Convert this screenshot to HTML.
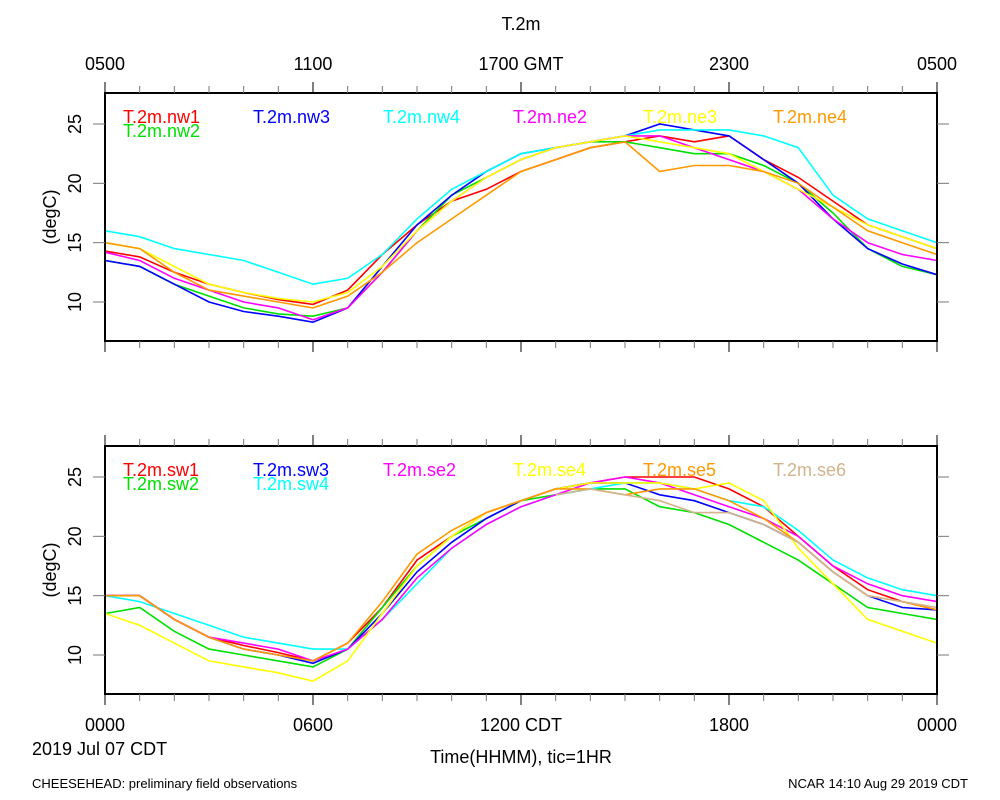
<!DOCTYPE html>
<html><head><meta charset="utf-8"><style>
body{margin:0;background:#fff;}
svg{display:block;font-family:"Liberation Sans",sans-serif;}
</style></head><body>
<svg id="chart" width="1000" height="800" viewBox="0 0 1000 800">
<text x="521" y="30" font-size="18" text-anchor="middle">T.2m</text>
<text x="32" y="755" font-size="18">2019 Jul 07 CDT</text>
<text x="521" y="763" font-size="18" text-anchor="middle">Time(HHMM), tic=1HR</text>
<text x="32" y="788" font-size="13">CHEESEHEAD: preliminary field observations</text>
<text x="968" y="788" font-size="13" text-anchor="end">NCAR 14:10 Aug 29 2019 CDT</text>
</svg>
<script>
const hours=[0,1,2,3,4,5,6,7,8,9,10,11,12,13,14,15,16,17,18,19,20,21,22,23,24];
const topTickLabels=["0500","1100","1700 GMT","2300","0500"];
const bottomTickLabels=["0000","0600","1200 CDT","1800","0000"];
const yTicks=[10,15,20,25];
const topNames=["T.2m.nw1","T.2m.nw2","T.2m.nw3","T.2m.nw4","T.2m.ne2","T.2m.ne3","T.2m.ne4"];
const topColors=["#ff0000","#00e000","#0000ff","#00ffff","#ff00ff","#ffff00","#ff9900"];
const nw1=[14.3,13.8,12.5,11.5,10.8,10.2,9.8,11,14,16.5,18.5,19.5,21,22,23,23.5,24,23.5,24,22,20.5,18.5,16.5,15.5,14.5];
const nw2=[13.5,13,11.5,10.5,9.5,9,8.8,9.5,12.5,16,19,20.5,22,23,23.5,23.5,23,22.5,22.5,21.5,20,17.5,14.5,13,12.3];
const nw3=[13.5,13,11.5,10,9.2,8.8,8.3,9.5,13,16.5,19,21,22.5,23,23.5,24,25,24.5,24,22,20,17,14.5,13.2,12.3];
const nw4=[16,15.5,14.5,14,13.5,12.5,11.5,12,14,17,19.5,21,22.5,23,23.5,24,24.5,24.5,24.5,24,23,19,17,16,15];
const ne2=[14.2,13.5,12,11,10,9.5,8.5,9.5,12.5,16,18.5,20.5,22,23,23.5,24,24,23,22,21,19.5,17,15,14,13.5];
const ne3=[15,14.5,13,11.5,10.8,10.3,10,10.8,13,16,18.5,20.5,22,23,23.5,24,23.5,23,22.5,21,19.5,18,16.5,15.5,14.5];
const ne4=[15,14.5,12.5,11,10.5,10,9.5,10.5,12.5,15,17,19,21,22,23,23.5,21,21.5,21.5,21,20,18,16,15,14];
const botNames=["T.2m.sw1","T.2m.sw2","T.2m.sw3","T.2m.sw4","T.2m.se2","T.2m.se4","T.2m.se5","T.2m.se6"];
const botColors=["#ff0000","#00e000","#0000ff","#00ffff","#ff00ff","#ffff00","#ff9900","#d2b48c"];
const sw1=[15,15,13,11.5,10.8,10.2,9.5,11,14,18,20,22,23,24,24.5,25,25,25,24,22.5,20,17.5,15.5,14.5,13.8];
const sw2=[13.5,14,12,10.5,10,9.5,9,10.5,14,17.5,20,21.5,23,23.5,24,24,22.5,22,21,19.5,18,16,14,13.5,13];
const sw3=[15,15,13,11.5,10.5,10,9.3,10.5,13.5,17,19.5,21.5,23,24,24.5,24.5,23.5,23,22,21,19.5,17,15,14,13.8];
const sw4=[15,14.5,13.5,12.5,11.5,11,10.5,10.5,13,16,19,21,22.5,23.5,24,24.5,24.5,24,23,22.5,20.5,18,16.5,15.5,15];
const se2=[15,15,13,11.5,11,10.5,9.5,10.5,13,16.5,19,21,22.5,23.5,24.5,25,24.5,23.5,22.5,21.5,20,17.5,16,15,14.5];
const se4=[13.5,12.5,11,9.5,9,8.5,7.8,9.5,13.5,17.5,20,22,23,24,24.5,24.5,24.5,24,24.5,23,19,16,13,12,11];
const se5=[15,15,13,11.5,10.5,10,9.5,11,14.5,18.5,20.5,22,23,24,24,23.5,24,24,23,21.5,19.5,17,15,14.5,13.8];
const se6=[null,null,null,null,null,null,null,null,null,null,null,null,null,23.5,24,23.5,23,22,22,21,19.5,17,15,14.5,14];
const topSeries=[nw1,nw2,nw3,nw4,ne2,ne3,ne4];
const botSeries=[sw1,sw2,sw3,sw4,se2,se4,se5,se6];

const NS="http://www.w3.org/2000/svg";
const svg=document.getElementById('chart');
const X0=105,X1=937;
function xs(h){return X0+(X1-X0)*h/24;}
function mk(tag,attrs,parent){const e=document.createElementNS(NS,tag);for(const k in attrs)e.setAttribute(k,attrs[k]);(parent||svg).appendChild(e);return e;}

function panel(top,bottom,series,names,colors,tickLabels,labelY,legendPos,pname){
  const g=mk('g',{});
  
  
  const ys=v=>top+31-(v-25)*(178/15);
  series.forEach((s,i)=>{
    let d='';let pen=false;
    s.forEach((v,j)=>{if(v===null){pen=false;return;}d+=(pen?'L':'M')+xs(hours[j]).toFixed(1)+' '+ys(v).toFixed(1);pen=true;});
    const p=mk('path',{d:d,fill:'none',stroke:colors[i],'stroke-width':1.6},g);
    
    
  });
  const f=mk('rect',{x:X0,y:top,width:X1-X0,height:bottom-top,fill:'none',stroke:'#000','stroke-width':2},g);
  
  
  for(let h=0;h<=24;h++){
    const L=h%6===0?11:7;
    const c=h%6===0?'#000':'#777';
    mk('line',{x1:xs(h),x2:xs(h),y1:bottom,y2:bottom+L,stroke:c,'stroke-width':1},g);
    mk('line',{x1:xs(h),x2:xs(h),y1:top,y2:top-L,stroke:c,'stroke-width':1},g);
  }
  yTicks.forEach(v=>{
    mk('line',{x1:X0-12,x2:X0,y1:ys(v),y2:ys(v),stroke:'#777'},g);
    mk('line',{x1:X1,x2:X1+12,y1:ys(v),y2:ys(v),stroke:'#777'},g);
    const t=mk('text',{x:X0-24,y:ys(v),'font-size':18,'text-anchor':'middle',transform:'rotate(-90 '+(X0-24)+' '+ys(v)+')'},g);
    t.textContent=v;
    
    
  });
  const yt=mk('text',{x:56,y:(top+bottom)/2,'font-size':18,'text-anchor':'middle',transform:'rotate(-90 56 '+(top+bottom)/2+')'},g);
  yt.textContent='(degC)';
  
  
  tickLabels.forEach((lab,i)=>{
    const t=mk('text',{x:xs(i*6),y:labelY,'font-size':18,'text-anchor':'middle'},g);
    t.textContent=lab;
    
    
  });
  names.forEach((n,i)=>{
    const t=mk('text',{x:legendPos[i][0],y:top+legendPos[i][1],'font-size':18,fill:colors[i]},g);
    t.textContent=n;
    
    
  });
}
panel(93,341,topSeries,topNames,topColors,topTickLabels,70,[[123,30],[123,44],[253,30],[383,30],[513,30],[643,30],[773,30]],'top-panel');
panel(446,694,botSeries,botNames,botColors,bottomTickLabels,731,[[123,30],[123,44],[253,30],[253,44],[383,30],[513,30],[643,30],[773,30]],'bottom-panel');
</script>
</body></html>
